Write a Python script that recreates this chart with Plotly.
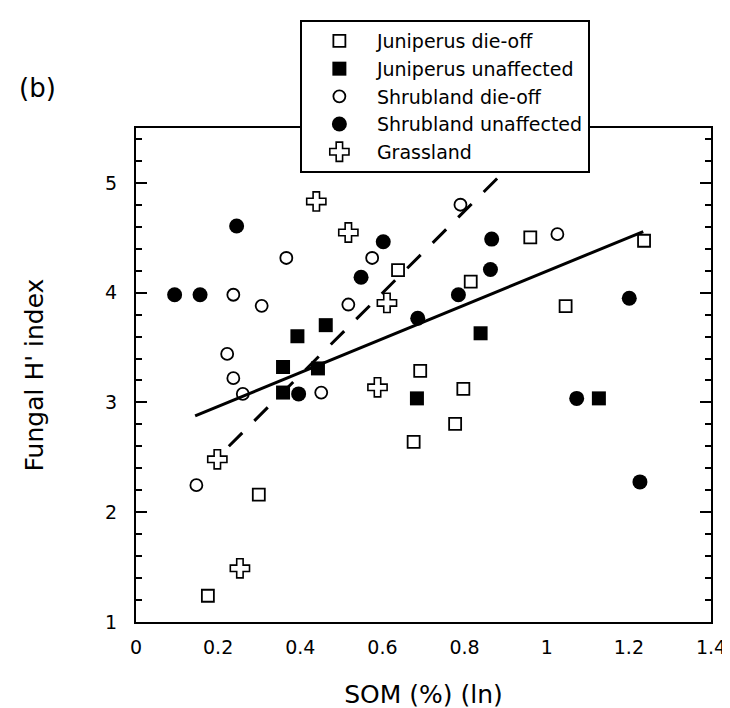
import plotly.graph_objects as go

# ---- data (SOM (%) (ln) vs Fungal H' index) ----
jun_dieoff_x = [0.638, 0.960, 1.237, 0.815, 1.046, 0.692, 0.797, 0.777, 0.676, 0.299, 0.175]
jun_dieoff_y = [4.205, 4.503, 4.473, 4.101, 3.877, 3.287, 3.123, 2.804, 2.640, 2.160, 1.239]

jun_unaff_x = [0.462, 0.393, 0.358, 0.443, 0.358, 0.684, 0.839, 1.127]
jun_unaff_y = [3.704, 3.603, 3.323, 3.310, 3.090, 3.037, 3.630, 3.037]

shr_dieoff_x = [0.366, 0.575, 0.237, 0.306, 0.517, 0.222, 0.237, 0.260, 0.451, 0.790, 1.026, 0.147]
shr_dieoff_y = [4.316, 4.316, 3.981, 3.880, 3.892, 3.442, 3.221, 3.078, 3.090, 4.801, 4.533, 2.246]

shr_unaff_x = [0.245, 0.602, 0.548, 0.094, 0.156, 0.686, 0.396, 0.866, 0.863, 0.785, 1.201, 1.073, 1.227]
shr_unaff_y = [4.607, 4.464, 4.140, 3.981, 3.981, 3.767, 3.078, 4.488, 4.211, 3.981, 3.949, 3.037, 2.276]

grass_x = [0.439, 0.517, 0.611, 0.588, 0.198, 0.253]
grass_y = [4.831, 4.548, 3.907, 3.138, 2.482, 1.489]

# regression lines (endpoints)
fit_all_x = [0.144, 1.235]
fit_all_y = [2.878, 4.557]
fit_grass_x = [0.226, 0.881]
fit_grass_y = [2.601, 5.046]

x_ticks = [0, 0.2, 0.4, 0.6, 0.8, 1, 1.2, 1.4]
x_ticklabels = ["0", "0.2", "0.4", "0.6", "0.8", "1", "1.2", "1.4"]
y_ticks = [1, 2, 3, 4, 5]

FONT = "DejaVu Sans"
fig = go.Figure()

def add_pts(x, y, name, symbol, fill, size, lw):
    fig.add_trace(go.Scatter(
        x=x, y=y, mode="markers", name=name,
        marker=dict(symbol=symbol, size=size, color=fill,
                    line=dict(color="black", width=lw)),
    ))

add_pts(jun_dieoff_x, jun_dieoff_y, "Juniperus die-off", "square", "white", 12, 1.8)
add_pts(jun_unaff_x, jun_unaff_y, "Juniperus unaffected", "square", "black", 14, 0)
add_pts(shr_dieoff_x, shr_dieoff_y, "Shrubland die-off", "circle", "white", 12, 1.8)
add_pts(shr_unaff_x, shr_unaff_y, "Shrubland unaffected", "circle", "black", 15, 0)
add_pts(grass_x, grass_y, "Grassland", "cross", "white", 16, 1.6)

fig.add_trace(go.Scatter(x=fit_all_x, y=fit_all_y, mode="lines", showlegend=False,
                         line=dict(color="black", width=3)))
fig.add_trace(go.Scatter(x=fit_grass_x, y=fit_grass_y, mode="lines", showlegend=False,
                         line=dict(color="black", width=3, dash="19px,17px")))

fig.update_layout(
    width=730, height=708,
    margin=dict(l=128, r=16, t=113, b=93),
    paper_bgcolor="white", plot_bgcolor="white",
    font=dict(family=FONT, color="black", size=19),
    showlegend=True,
    legend=dict(
        x=0.285, y=1.2184, xanchor="left", yanchor="top",
        bgcolor="white", bordercolor="black", borderwidth=2,
        font=dict(family=FONT, size=19, color="black"),
        itemwidth=65, tracegroupgap=0,
    ),
    xaxis=dict(
        range=[0, 1.4], tickmode="array", tickvals=x_ticks, ticktext=x_ticklabels,
        showline=True, linecolor="black", linewidth=2, mirror=True,
        ticks="", showgrid=False, zeroline=False,
        ticklabelstandoff=7,
        title=dict(text="SOM (%) (ln)", font=dict(family=FONT, size=25), standoff=29),
        tickfont=dict(family=FONT, size=19),
    ),
    yaxis=dict(
        range=[1, 5.5], tickmode="array", tickvals=y_ticks,
        showline=True, linecolor="black", linewidth=2, mirror="ticks",
        ticks="inside", ticklen=11, tickwidth=2, tickcolor="black",
        minor=dict(ticks="inside", ticklen=6, tickwidth=2, tickcolor="black", dtick=0.2, tick0=1, showgrid=False),
        showgrid=False, zeroline=False,
        ticklabelstandoff=13,
        title=dict(text="Fungal H' index", font=dict(family=FONT, size=25), standoff=54),
        tickfont=dict(family=FONT, size=19),
    ),
    annotations=[dict(text="(b)", xref="paper", yref="paper", x=-0.1706, y=1.081,
                      xanchor="center", yanchor="middle", showarrow=False,
                      font=dict(family=FONT, size=26, color="black"))],
)

fig.write_html("out.html")
